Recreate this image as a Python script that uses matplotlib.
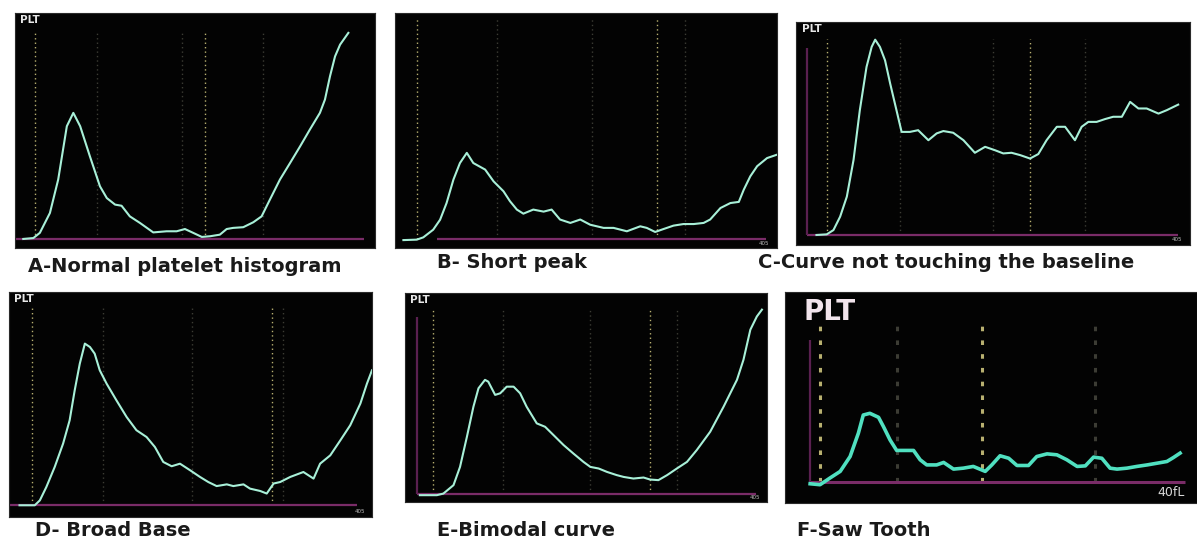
import matplotlib.pyplot as plt

# curve points per panel (x: 0-100 across the screen, y: height above baseline, 0-100)
a_x = [2.3, 5.1, 6.9, 9.7, 12.0, 14.4, 16.2, 18.1, 20.8, 23.6, 25.5, 27.8, 29.6, 31.9, 34.7, 38.4,
       42.1, 44.9, 47.2, 49.5, 51.9, 54.2, 56.9, 58.8, 60.6, 63.4, 66.2, 68.5, 70.8, 73.6, 76.4,
       79.2, 81.9, 84.7, 86.1, 87.5, 88.9, 90.3, 92.6]
a_y = [0, 0.4, 2.7, 11.5, 26.3, 49.9, 55.8, 49.9, 36.6, 23.3, 18.1, 15.2, 14.7, 10.0, 7.1, 2.9,
       3.4, 3.4, 4.4, 2.7, 0.9, 1.2, 1.9, 4.4, 4.9, 5.2, 7.4, 10.0, 17.4, 26.3, 33.6,
       41.0, 48.4, 55.8, 61.7, 72.0, 80.8, 86.0, 91.2]

b_x = [2.2, 5.7, 7.4, 10.0, 11.8, 13.5, 15.3, 17.0, 18.8, 20.5, 23.6, 25.8, 28.4, 30.1, 31.9, 33.6,
       36.2, 38.9, 41.0, 43.2, 45.9, 48.5, 51.1, 54.6, 57.2, 60.7, 64.2, 65.9, 68.1, 70.3, 72.9,
       75.5, 78.2, 80.8, 82.5, 85.2, 87.8, 90.0, 91.3, 93.0, 94.8, 97.4, 100]
b_y = [-0.5, -0.3, 0.7, 4.1, 8.5, 15.9, 26.3, 33.6, 38.1, 33.6, 30.7, 25.5, 21.1, 16.7, 13.0, 11.2,
       13.0, 12.1, 13.0, 8.6, 7.1, 8.6, 6.3, 4.9, 4.9, 3.4, 5.6, 4.9, 3.1, 4.4, 5.9,
       6.6, 6.6, 7.1, 8.6, 13.7, 15.9, 16.4, 21.8, 27.7, 32.2, 35.8, 37.3]

c_x = [5.2, 7.8, 9.5, 11.2, 12.9, 14.6, 16.2, 17.9, 19.2, 20.1, 21.3, 22.6, 23.9, 25.5, 26.8, 28.9,
       31.0, 33.6, 35.7, 37.4, 39.9, 42.5, 45.4, 48.0, 50.5, 52.6, 54.7, 56.9, 59.4, 61.5, 63.6,
       66.2, 68.3, 70.8, 72.5, 74.2, 76.3, 78.4, 80.5, 82.7, 84.8, 86.9, 89.0, 92.0, 94.1, 97.0]
c_y = [0, 0.3, 2.3, 8.6, 18.0, 35.2, 58.6, 78.9, 88.3, 91.7, 88.3, 82.0, 71.1, 58.6, 48.4, 48.4,
       49.2, 44.5, 47.7, 48.8, 48.0, 44.5, 38.6, 41.4, 39.8, 38.3, 38.6, 37.5, 35.9, 38.0, 44.5,
       50.8, 50.8, 44.5, 50.8, 53.1, 53.1, 54.4, 55.5, 55.5, 62.5, 59.4, 59.4, 57.0, 58.6, 61.2]

d_x = [2.9, 7.1, 8.5, 10.3, 12.6, 14.9, 16.7, 18.1, 19.5, 20.9, 22.3, 23.6, 25.0, 26.9, 29.6, 32.4,
       35.1, 37.9, 40.2, 42.5, 44.8, 47.1, 49.9, 52.6, 54.9, 57.2, 60.0, 61.8, 64.6, 66.4, 69.2,
       71.0, 72.9, 74.7, 77.5, 81.1, 83.9, 85.7, 88.5, 91.3, 94.0, 96.8, 98.6, 100]
d_y = [0, 0, 2.3, 8.6, 18.0, 28.9, 39.8, 53.9, 66.4, 75.8, 74.2, 71.1, 63.3, 57.0, 49.2, 41.4,
       35.2, 32.0, 27.3, 20.3, 18.3, 19.5, 16.4, 13.3, 10.9, 9.0, 9.8, 9.0, 9.8, 7.8, 6.7,
       5.5, 10.2, 10.9, 13.3, 15.6, 12.5, 19.5, 23.4, 30.5, 37.5, 47.7, 57.0, 63.3]

e_x = [4.1, 8.8, 10.6, 13.4, 15.2, 17.1, 18.9, 20.3, 22.1, 23.0, 24.9, 26.3, 28.1, 30.0, 31.8, 33.6,
       36.4, 38.7, 41.0, 43.8, 46.5, 49.3, 51.2, 53.5, 55.8, 58.5, 60.4, 63.1, 65.9, 67.7, 70.0,
       72.4, 75.1, 77.9, 80.6, 84.3, 88.0, 91.7, 93.5, 95.4, 97.2, 98.6]
e_y = [-0.8, -0.8, 0, 4.2, 13.3, 28.3, 43.3, 52.5, 56.7, 55.8, 49.2, 50.0, 53.3, 53.3, 50.0, 43.3,
       35.0, 33.3, 29.2, 24.2, 20.0, 15.8, 13.3, 12.5, 10.8, 9.2, 8.3, 7.5, 8.0, 7.0, 6.7,
       9.2, 12.5, 15.8, 21.7, 30.8, 43.3, 56.7, 66.7, 81.7, 88.3, 91.7]

f_x = [6.1, 8.5, 10.9, 13.4, 15.8, 17.8, 19.0, 20.6, 22.7, 23.9, 25.5, 27.1, 29.1, 31.2, 32.8, 34.4,
       36.8, 38.5, 40.9, 43.3, 45.7, 48.6, 50.2, 52.2, 54.3, 56.3, 59.1, 61.1, 63.6, 66.0, 68.4,
       70.9, 72.9, 74.9, 76.9, 78.9, 80.6, 83.0, 85.4, 87.9, 90.3, 92.7, 94.3, 95.9]
f_y = [-0.7, -1.2, 2.3, 5.8, 13.6, 25.8, 35.4, 36.3, 34.2, 29.3, 22.3, 16.8, 16.8, 16.8, 11.9, 9.2,
       9.2, 10.5, 7.0, 7.5, 8.4, 5.8, 9.2, 14.0, 12.7, 8.9, 8.9, 13.6, 15.0, 14.5, 11.9,
       8.4, 8.7, 13.3, 12.7, 7.5, 7.0, 7.5, 8.4, 9.2, 10.1, 11.0, 13.1, 15.4]

# dotted guide positions
a_guides = [5.6, 22.7, 46.3, 52.8, 69.0]
b_guides = [5.7, 26.6, 51.5, 68.6, 76.0]
c_guides = [7.8, 26.4, 50.1, 59.4, 73.3]
d_guides = [6.2, 25.9, 50.3, 72.4, 75.6]
e_guides = [7.8, 27.2, 51.2, 67.7, 75.1]
f_guides = [8.5, 27.1, 47.8, 75.3]

captions = ['A-Normal platelet histogram', 'B- Short peak', 'C-Curve not touching the baseline',
            'D- Broad Base', 'E-Bimodal curve', 'F-Saw Tooth']

W, H = 1197, 541
fig = plt.figure(figsize=(W / 100, H / 100), dpi=100)
fig.patch.set_facecolor('white')


def px_axes(x0, y0, x1, y1):
    return fig.add_axes([x0 / W, 1 - y1 / H, (x1 - x0) / W, (y1 - y0) / H])


panels = [
    # box (px), bottom margin, x, y, guides, bright guides, guide top, baseline start, left bar, small label
    ((15, 13, 375, 248), 4.0, a_x, a_y, a_guides, (0, 3), 92, 0, False, None),
    ((395, 13, 777, 248), 4.0, b_x, b_y, b_guides, (0, 3), 98, 11, False, '405'),
    ((796, 22, 1190, 245), 4.7, c_x, c_y, c_guides, (0, 3), 92, 2.7, True, '405'),
    ((9, 292, 372, 517), 5.5, d_x, d_y, d_guides, (0, 3), 93, 0, False, '405'),
    ((405, 293, 767, 502), 4.2, e_x, e_y, e_guides, (0, 3), 92, 3.2, True, '405'),
    ((785, 292, 1197, 503), 10.8, f_x, f_y, f_guides, (0, 2), 82, 6.0, True, '40fL'),
]

for i, (box, bm, xs, ys, guides, bright_idx, gtop, bstart, lbar, small) in enumerate(panels):
    ax = px_axes(*box)
    ax.set_facecolor('#030303')
    ax.set_xlim(0, 100)
    ax.set_ylim(-bm, 100)
    ax.set_xticks([])
    ax.set_yticks([])
    for s in ax.spines.values():
        s.set_color('#2a2a2a')
        s.set_linewidth(0.8)

    big = i == 5
    for k, g in enumerate(guides):
        col = '#b8b070' if k in bright_idx else '#3c3c34'
        ax.vlines(g, 0, gtop, colors=col, linestyles=(0, (1, 2.2)) if not big else (0, (1.5, 3)),
                  linewidth=1.0 if not big else 2.2)

    ax.hlines(0, bstart, 97 if i != 3 else 96, colors='#7a2c68', linewidth=1.6 if not big else 2.2)
    if lbar:
        ax.vlines(bstart, 0, 88 if not big else 75, colors='#5a2050', linewidth=1.6)

    if big:
        ax.plot(xs, ys, color='#50e0c0', linewidth=2.6, solid_joinstyle='round')
        ax.text(4.5, 97, 'PLT', color='#f2e4ec', fontsize=20, fontweight='bold',
                va='top', ha='left', family='DejaVu Sans')
        ax.text(97, -5.5, small, color='#d8d8d8', fontsize=9, va='center', ha='right')
    else:
        ax.plot(xs, ys, color='#a8f0d8', linewidth=1.5, solid_joinstyle='round')
        if i != 1:
            ax.text(1.5, 99, 'PLT', color='#e8e8e8', fontsize=7.5, fontweight='bold',
                    va='top', ha='left')
        if small:
            ax.text(98, -bm / 2, small, color='#bbbbbb', fontsize=4, va='center', ha='right')

caption_pos = [(28, 267), (437, 263), (758, 263), (35, 531), (437, 531), (797, 531)]
for text, (cx, cy) in zip(captions, caption_pos):
    fig.text(cx / W, 1 - cy / H, text, fontsize=14, fontweight='bold', color='#1a1a1a',
             ha='left', va='center', family='DejaVu Sans')

fig.savefig('out.png', dpi=100, facecolor='white')
